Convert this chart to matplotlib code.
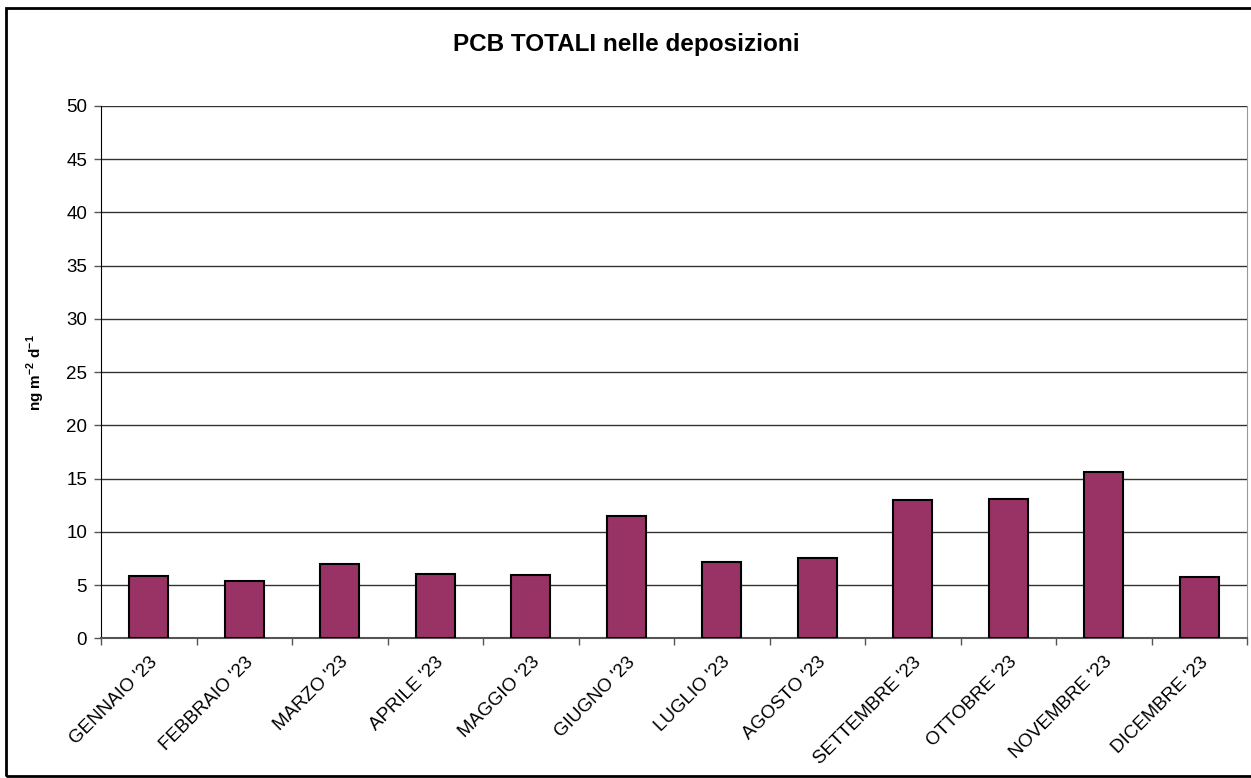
import matplotlib
matplotlib.use("Agg")
import matplotlib.pyplot as plt
from matplotlib.patches import Rectangle

months = ["GENNAIO '23", "FEBBRAIO '23", "MARZO '23", "APRILE '23", "MAGGIO '23",
          "GIUGNO '23", "LUGLIO '23", "AGOSTO '23", "SETTEMBRE '23", "OTTOBRE '23",
          "NOVEMBRE '23", "DICEMBRE '23"]
values = [5.87, 5.37, 6.94, 6.06, 5.93, 11.45, 7.2, 7.57, 12.99, 13.08, 15.66, 5.74]
yticks = [0, 5, 10, 15, 20, 25, 30, 35, 40, 45, 50]

plt.rcParams['font.family'] = ['Liberation Sans', 'DejaVu Sans']

W, H = 1251, 778
fig = plt.figure(figsize=(W / 100, H / 100), dpi=100)
ax = fig.add_axes([101 / W, (H - 638.3) / H, (1247 - 101) / W, (638.3 - 106) / H])

x = list(range(len(months)))
ax.bar(x, values, width=0.41, color='#993366', edgecolor='black', linewidth=1.5, zorder=3)

ax.set_xlim(-0.5, len(months) - 0.5)
ax.set_ylim(0, 50)
ax.set_yticks(yticks)
ax.set_yticklabels([str(v) for v in yticks], fontsize=13.5)
ax.yaxis.grid(True, color='#333333', linewidth=1.0, zorder=0)
ax.set_axisbelow(True)

ax.set_xticks([i - 0.5 for i in range(len(months) + 1)], minor=False)
ax.set_xticklabels([])
ax.set_xticks(x, minor=True)
ax.set_xticklabels(months, minor=True, rotation=45, ha='right', va='top',
                   rotation_mode='anchor', fontsize=13.5)
ax.tick_params(axis='x', which='minor', length=0, pad=11)
ax.tick_params(axis='x', which='major', length=5, width=1, color='#555555', direction='out')
ax.tick_params(axis='y', length=5, width=1, color='#555555', direction='out', pad=5)

ax.spines['top'].set_visible(False)
ax.spines['right'].set_color('#999999')
ax.spines['left'].set_color('black')
ax.spines['bottom'].set_color('#555555')
ax.spines['bottom'].set_linewidth(1.5)

ax.set_ylabel(r'ng m$^{\mathregular{-2}}$ d$^{\mathregular{-1}}$', fontsize=11,
              fontweight='bold', labelpad=14)

fig.text(626 / W, 1 - 45 / H, 'PCB TOTALI nelle deposizioni', ha='center', va='center',
         fontsize=17.5, fontweight='bold')

fig.patches.append(Rectangle((6 / W, 1 - 776 / H), (1300 - 6) / W, (776 - 8) / H,
                             transform=fig.transFigure, fill=False, edgecolor='black',
                             linewidth=2, zorder=10))

fig.savefig('out.png', dpi=100)
